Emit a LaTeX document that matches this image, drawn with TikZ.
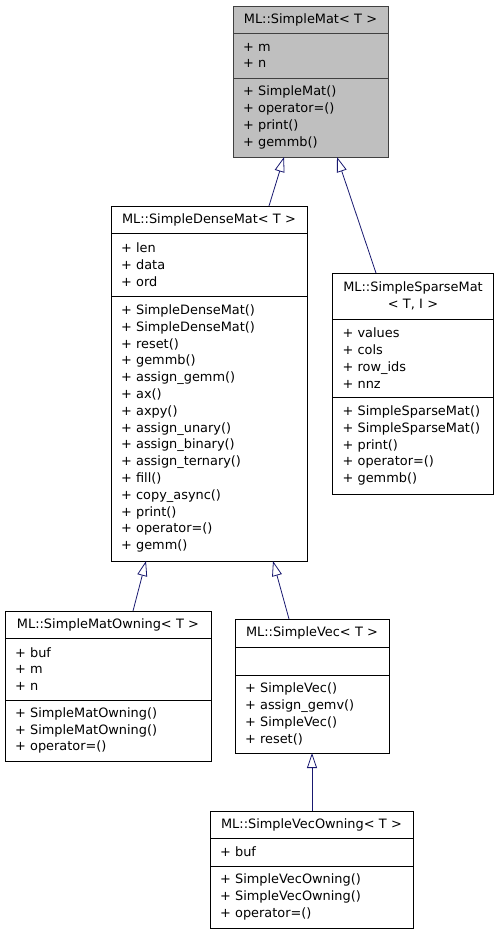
\documentclass[tikz,border=0pt]{standalone}
\usepackage{fontspec}
\setmainfont{DejaVu Sans}
\usetikzlibrary{arrows.meta}
\definecolor{edgeblue}{HTML}{191970}
\definecolor{basefill}{HTML}{BFBFBF}
\definecolor{baseedge}{HTML}{404040}
\begin{document}
\begin{tikzpicture}[x=1pt,y=-1pt,line width=0.8pt,
        font=\fontsize{12.9pt}{16.8pt}\selectfont,
        classhead/.style={draw, anchor=north, inner xsep=10pt, inner ysep=0pt, outer sep=0pt,
            text width=#1, align=center, minimum height=27pt},
        classbody/.style={draw, anchor=north, inner xsep=10pt, inner ysep=0pt, outer sep=0pt,
            text width=#1, align=left},
        inherit/.style={draw=edgeblue, -{Triangle[open, length=15pt, width=10pt]}}]
            \useasboundingbox (0,0) rectangle (500,934);

            % base class
            \node[classhead=135pt, fill=basefill, draw=baseedge] (mat) at (310.5,6) {ML::SimpleMat< T >};
            \node[classbody=135pt, fill=basefill, draw=baseedge, minimum height=45pt] (matAttr) at (mat.south)
                {+ m\\+ n};
            \node[classbody=135pt, fill=basefill, draw=baseedge, minimum height=79pt] (matOps) at (matAttr.south)
                {+ SimpleMat()\\+ operator=()\\+ print()\\+ gemmb()};

            % dense
            \node[classhead=176pt] (dense) at (209,206) {ML::SimpleDenseMat< T >};
            \node[classbody=176pt, minimum height=63pt] (denseAttr) at (dense.south)
                {+ len\\+ data\\+ ord};
            \node[classbody=176pt, minimum height=265pt] (denseOps) at (denseAttr.south)
                {+ SimpleDenseMat()\\+ SimpleDenseMat()\\+ reset()\\+ gemmb()\\+ assign\_gemm()\\+ ax()\\+ axpy()\\+ assign\_unary()\\+ assign\_binary()\\+ assign\_ternary()\\+ fill()\\+ copy\_async()\\+ print()\\+ operator=()\\+ gemm()};

            % sparse
            \node[classhead=141pt, minimum height=46pt] (sparse) at (413,273) {ML::SimpleSparseMat\\< T, I >};
            \node[classbody=141pt, minimum height=78pt] (sparseAttr) at (sparse.south)
                {+ values\\+ cols\\+ row\_ids\\+ nnz};
            \node[classbody=141pt, minimum height=97pt] (sparseOps) at (sparseAttr.south)
                {+ SimpleSparseMat()\\+ SimpleSparseMat()\\+ print()\\+ operator=()\\+ gemmb()};

            % owning matrix
            \node[classhead=186pt] (matOwn) at (108,611) {ML::SimpleMatOwning< T >};
            \node[classbody=186pt, minimum height=62pt] (matOwnAttr) at (matOwn.south)
                {+ buf\\+ m\\+ n};
            \node[classbody=186pt, minimum height=61pt] (matOwnOps) at (matOwnAttr.south)
                {+ SimpleMatOwning()\\+ SimpleMatOwning()\\+ operator=()};

            % vector
            \node[classhead=134pt, minimum height=28pt] (vec) at (312,619) {ML::SimpleVec< T >};
            \node[classbody=134pt, minimum height=28pt] (vecAttr) at (vec.south) {};
            \node[classbody=134pt, minimum height=78pt] (vecOps) at (vecAttr.south)
                {+ SimpleVec()\\+ assign\_gemv()\\+ SimpleVec()\\+ reset()};

            % owning vector
            \node[classhead=183pt] (vecOwn) at (311.5,811) {ML::SimpleVecOwning< T >};
            \node[classbody=183pt, minimum height=28pt] (vecOwnAttr) at (vecOwn.south) {+ buf};
            \node[classbody=183pt, minimum height=62pt] (vecOwnOps) at (vecOwnAttr.south)
                {+ SimpleVecOwning()\\+ SimpleVecOwning()\\+ operator=()};

            \draw[inherit] ([xshift=60pt]dense.north) -- ([xshift=-26.5pt]matOps.south);
            \draw[inherit] ([xshift=-37pt]sparse.north) -- ([xshift=26.5pt]matOps.south);
            \draw[inherit] ([xshift=25pt]matOwn.north) -- ([xshift=-63pt]denseOps.south);
            \draw[inherit] ([xshift=-23pt]vec.north) -- ([xshift=64pt]denseOps.south);
            \draw[inherit] ([xshift=0.5pt]vecOwn.north) -- (vecOps.south);
        \end{tikzpicture}
\end{document}
